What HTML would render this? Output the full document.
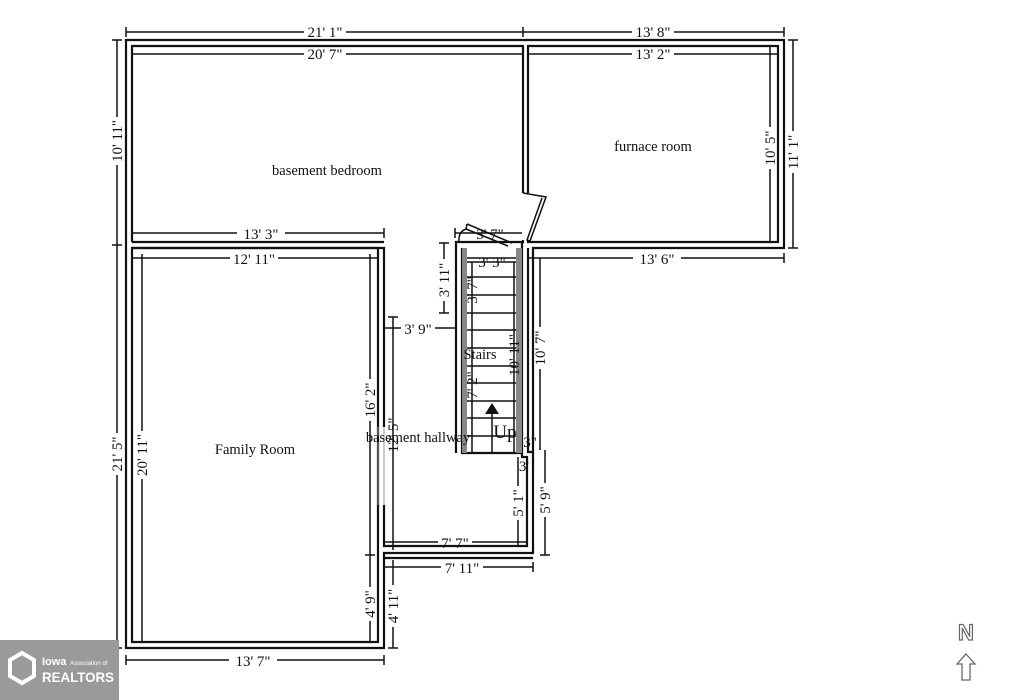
<!DOCTYPE html>
<html><head><meta charset="utf-8"><style>
html,body{margin:0;padding:0;background:#fff;}
svg{display:block}
text{font-family:"Liberation Serif",serif;fill:#111;}
</style></head><body>
<svg width="1024" height="700" viewBox="0 0 1024 700" xmlns="http://www.w3.org/2000/svg">
<rect width="1024" height="700" fill="#fff"/>
<!-- dimension lines -->
<g stroke="#111" stroke-width="1.5">
<line x1="126" y1="32" x2="784" y2="32"/><line x1="126" y1="27" x2="126" y2="37"/><line x1="523" y1="27" x2="523" y2="37"/><line x1="784" y1="27" x2="784" y2="37"/>
<line x1="132" y1="54" x2="523" y2="54"/><line x1="528" y1="54" x2="778" y2="54"/>
<line x1="117" y1="40" x2="117" y2="648"/><line x1="112" y1="40" x2="122" y2="40"/><line x1="112" y1="245" x2="122" y2="245"/><line x1="112" y1="648" x2="122" y2="648"/>
<line x1="793" y1="40" x2="793" y2="248"/><line x1="788" y1="40" x2="798" y2="40"/><line x1="788" y1="248" x2="798" y2="248"/>
<line x1="770" y1="46" x2="770" y2="242"/>
<line x1="132" y1="233" x2="384" y2="233"/><line x1="384" y1="228" x2="384" y2="238"/>
<line x1="132" y1="258" x2="378" y2="258"/>
<line x1="528" y1="258" x2="784" y2="258"/><line x1="784" y1="253" x2="784" y2="263"/>
<line x1="142" y1="254" x2="142" y2="642"/>
<line x1="370" y1="254" x2="370" y2="642"/><line x1="365" y1="555" x2="375" y2="555"/>
<line x1="393" y1="560" x2="393" y2="648"/><line x1="388" y1="648" x2="398" y2="648"/>
<line x1="126" y1="660" x2="384" y2="660"/><line x1="126" y1="655" x2="126" y2="665"/><line x1="384" y1="655" x2="384" y2="665"/>
<line x1="384" y1="328" x2="456" y2="328"/><line x1="393" y1="317" x2="393" y2="550"/><line x1="388" y1="317" x2="398" y2="317"/>
<line x1="444" y1="243" x2="444" y2="313"/><line x1="439" y1="243" x2="449" y2="243"/><line x1="439" y1="313" x2="449" y2="313"/>
<line x1="455" y1="233" x2="522" y2="233"/><line x1="455" y1="228" x2="455" y2="238"/>
<line x1="462" y1="262" x2="522" y2="262"/>
<line x1="472" y1="262" x2="472" y2="453"/>
<line x1="514" y1="262" x2="514" y2="453"/>
<line x1="540" y1="258" x2="540" y2="450"/>
<line x1="545" y1="450" x2="545" y2="555"/><line x1="540" y1="555" x2="550" y2="555"/>
<line x1="518" y1="457" x2="518" y2="546"/>
<line x1="384" y1="542" x2="527" y2="542"/>
<line x1="384" y1="567" x2="533" y2="567"/><line x1="533" y1="562" x2="533" y2="572"/>
</g>
<!-- gaps in dimension lines -->
<g fill="#fff">
<rect x="304" y="29" width="42" height="6"/><rect x="632" y="29" width="42" height="6"/>
<rect x="304" y="51" width="42" height="6"/><rect x="632" y="51" width="42" height="6"/>
<rect x="237" y="230" width="48" height="6"/><rect x="230" y="255" width="48" height="6"/>
<rect x="633" y="255" width="48" height="6"/><rect x="229" y="657" width="48" height="6"/>
<rect x="401" y="325" width="34" height="6"/><rect x="438" y="539" width="34" height="6"/>
<rect x="441" y="564" width="42" height="6"/>
<rect x="114" y="117" width="6" height="48"/><rect x="114" y="433" width="6" height="42"/>
<rect x="790" y="131" width="6" height="42"/><rect x="767" y="127" width="6" height="42"/>
<rect x="139" y="431" width="6" height="48"/><rect x="367" y="379" width="6" height="42"/>
<rect x="367" y="587" width="6" height="34"/><rect x="390" y="585" width="6" height="42"/>
<rect x="441" y="259" width="6" height="42"/><rect x="537" y="327" width="6" height="42"/>
<rect x="542" y="483" width="6" height="34"/><rect x="515" y="486" width="6" height="34"/>
</g>
<g stroke="#111" stroke-width="2.2" fill="none">
<path d="M126 648 V40 H784 V248 H533 V553 H384 V648 Z"/>
<path d="M132 242 V46 H523 V193"/>
<path d="M523 240 V242 H456 V453"/>
<path d="M132 242 H384"/>
<path d="M528 193 V46 H778 V242 H528 V240"/>
<path d="M132 248 H378 V642 H132 Z"/>
<path d="M132 248 H384 V427"/>
<path d="M384 505 V546 H527 V457 H522 V242"/>
<path d="M528 248 V452 H533"/>
<path d="M462 248 V453 H522"/>
<path d="M384 558 H533"/>
<path d="M378 427 V505" stroke="#999" stroke-width="1"/>
<path d="M384 427 V505" stroke="#999" stroke-width="1"/>
</g>
<rect x="462" y="248" width="5" height="205" fill="#888"/>
<rect x="516" y="248" width="6" height="205" fill="#888"/>
<g stroke="#111" stroke-width="1.5" fill="none">
<path d="M523 193 L546 197 L530 241 L527 240 L542 198"/>
<path d="M467 224 L512 243 M466 229 L508 246 M467 224 L466 229"/>
<path d="M466 229 Q458 232 459 242"/>
</g>
<g stroke="#111" stroke-width="1.5">
<line x1="467" y1="258" x2="516" y2="258"/><line x1="467" y1="277" x2="516" y2="277"/>
<line x1="467" y1="295" x2="516" y2="295"/><line x1="467" y1="313" x2="516" y2="313"/>
<line x1="467" y1="330" x2="516" y2="330"/><line x1="467" y1="348" x2="516" y2="348"/>
<line x1="467" y1="366" x2="516" y2="366"/><line x1="467" y1="383" x2="516" y2="383"/>
<line x1="467" y1="401" x2="516" y2="401"/><line x1="467" y1="418" x2="516" y2="418"/>
<line x1="467" y1="436" x2="516" y2="436"/>
<line x1="492" y1="453" x2="492" y2="412"/>
</g>
<polygon points="485,414 492,403 499,414" fill="#111"/>
<g font-size="15" text-anchor="middle">
<text x="325" y="37">21' 1"</text><text x="653" y="37">13' 8"</text>
<text x="325" y="59">20' 7"</text><text x="653" y="59">13' 2"</text>
<text x="261" y="239">13' 3"</text><text x="254" y="264">12' 11"</text>
<text x="657" y="264">13' 6"</text><text x="253" y="666">13' 7"</text>
<text x="418" y="334">3' 9"</text><text x="455" y="548">7' 7"</text>
<text x="462" y="573">7' 11"</text>
<text x="490" y="239">3' 7"</text><text x="492" y="267">3' 3"</text>
<text x="530" y="447">3"</text><text x="524" y="471">3'</text>
<text transform="translate(122,141) rotate(-90)">10' 11"</text>
<text transform="translate(122,454) rotate(-90)">21' 5"</text>
<text transform="translate(798,152) rotate(-90)">11' 1"</text>
<text transform="translate(775,148) rotate(-90)">10' 5"</text>
<text transform="translate(147,455) rotate(-90)">20' 11"</text>
<text transform="translate(375,400) rotate(-90)">16' 2"</text>
<text transform="translate(375,604) rotate(-90)">4' 9"</text>
<text transform="translate(398,606) rotate(-90)">4' 11"</text>
<text transform="translate(398,435) rotate(-90)">12' 5"</text>
<text transform="translate(449,280) rotate(-90)">3' 11"</text>
<text transform="translate(477,290) rotate(-90)">3' 7"</text>
<text transform="translate(477,385) rotate(-90)">7' 2"</text>
<text transform="translate(519,355) rotate(-90)">10' 11"</text>
<text transform="translate(545,348) rotate(-90)">10' 7"</text>
<text transform="translate(523,503) rotate(-90)">5' 1"</text>
<text transform="translate(550,500) rotate(-90)">5' 9"</text>
</g>
<g font-size="14.5" text-anchor="middle">
<text x="327" y="175">basement bedroom</text>
<text x="653" y="151">furnace room</text>
<text x="255" y="454">Family Room</text>
<text x="480" y="359">Stairs</text>
<text x="418" y="442">basement hallway</text>
<text x="505" y="438" font-size="19">Up</text>
</g>
<text x="966" y="640" font-size="22" font-weight="bold" text-anchor="middle" style="font-family:'Liberation Sans',sans-serif;fill:#fff;stroke:#666;stroke-width:1.2">N</text>
<path d="M966 654 L975 664 L970 664 L970 680 L962 680 L962 664 L957 664 Z" fill="#fff" stroke="#666" stroke-width="1.3"/>
<rect x="0" y="640" width="119" height="60" fill="#9a9a9a"/>
<g fill="none" stroke="#fff" stroke-width="4">
<path d="M22 653 L34 660 V676 L22 683 L10 676 V660 Z"/>
</g>
<text x="42" y="665" font-size="11" style="font-family:'Liberation Sans',sans-serif;fill:#fff;font-weight:bold">Iowa</text>
<text x="70" y="665" font-size="6" style="font-family:'Liberation Sans',sans-serif;fill:#fff">Association of</text>
<text x="42" y="682" font-size="14" textLength="72" lengthAdjust="spacingAndGlyphs" style="font-family:'Liberation Sans',sans-serif;fill:#fff;font-weight:bold">REALTORS</text>
</svg>
</body></html>
